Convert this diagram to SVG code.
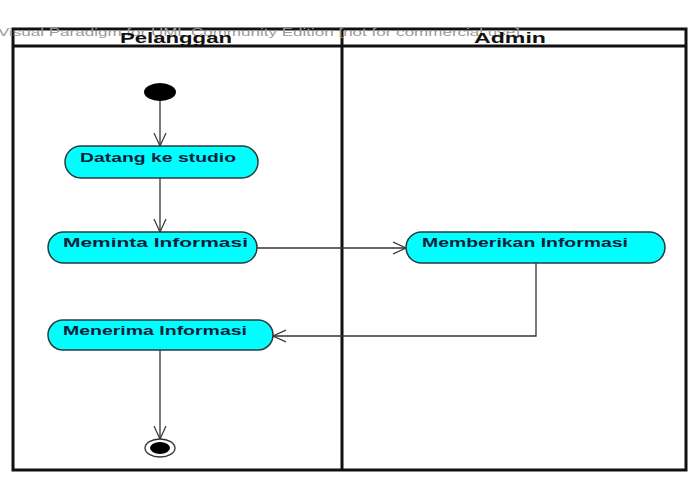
<svg xmlns="http://www.w3.org/2000/svg" width="693" height="479" viewBox="0 0 693 479">
<defs>
<style>
.frame{fill:none;stroke:#111;stroke-width:3}
.node{fill:#00FFFF;stroke:#2a3a3a;stroke-width:1.5}
.lbl{font-family:"Liberation Sans",Arial,sans-serif;font-weight:bold;font-size:12px;fill:#10203a}
.hdr{font-family:"Liberation Sans",Arial,sans-serif;font-weight:bold;font-size:14px;fill:#111}
.wm{font-family:"Liberation Sans",Arial,sans-serif;font-size:11px;fill:#9a9a9a}
.edge{fill:none;stroke:#333;stroke-width:1.3}
</style>
<marker id="arr" viewBox="0 0 14 14" refX="13" refY="7" markerWidth="14" markerHeight="14" markerUnits="userSpaceOnUse" orient="auto">
<path d="M0,1 L13,7 L0,13" fill="none" stroke="#333" stroke-width="1.2"/>
</marker>
</defs>
<rect width="693" height="479" fill="#fff"/>
<g id="swimlanes">
<rect class="frame" x="13" y="29" width="673" height="441"/>
<line class="frame" x1="13" y1="46" x2="686" y2="46"/>
<line class="frame" x1="342" y1="29" x2="342" y2="470"/>
<text class="wm" x="-2" y="36" textLength="522" lengthAdjust="spacingAndGlyphs">Visual Paradigm for UML Community Edition [not for commercial use]</text>
<text class="hdr" x="120" y="43" textLength="112" lengthAdjust="spacingAndGlyphs">Pelanggan</text>
<text class="hdr" x="474" y="43" textLength="72" lengthAdjust="spacingAndGlyphs">Admin</text>
</g>
<g id="connectors">
<line class="edge" x1="160" y1="100" x2="160" y2="146" marker-end="url(#arr)"/>
<line class="edge" x1="160" y1="178" x2="160" y2="232" marker-end="url(#arr)"/>
<line class="edge" x1="257" y1="248" x2="406" y2="248" marker-end="url(#arr)"/>
<polyline class="edge" points="536,263 536,336 273,336" marker-end="url(#arr)"/>
<line class="edge" x1="160" y1="350" x2="160" y2="439" marker-end="url(#arr)"/>
</g>
<g id="start">
<ellipse cx="160" cy="92" rx="16" ry="9" fill="#000"/>
</g>
<g id="datang">
<rect class="node" x="65" y="146" width="193" height="32" rx="16"/>
<text class="lbl" x="80" y="162" textLength="156" lengthAdjust="spacingAndGlyphs">Datang ke studio</text>
</g>
<g id="meminta">
<rect class="node" x="48" y="232" width="209" height="31" rx="15.5"/>
<text class="lbl" x="63" y="247" textLength="185" lengthAdjust="spacingAndGlyphs">Meminta Informasi</text>
</g>
<g id="memberikan">
<rect class="node" x="406" y="232" width="259" height="31" rx="15.5"/>
<text class="lbl" x="422" y="247" textLength="206" lengthAdjust="spacingAndGlyphs">Memberikan Informasi</text>
</g>
<g id="menerima">
<rect class="node" x="48" y="320" width="225" height="30" rx="15"/>
<text class="lbl" x="63" y="335" textLength="184" lengthAdjust="spacingAndGlyphs">Menerima Informasi</text>
</g>
<g id="end">
<ellipse cx="160" cy="448" rx="15" ry="9" fill="#fff" stroke="#333" stroke-width="1.3"/>
<ellipse cx="160" cy="448" rx="10" ry="6" fill="#000"/>
</g>
</svg>
